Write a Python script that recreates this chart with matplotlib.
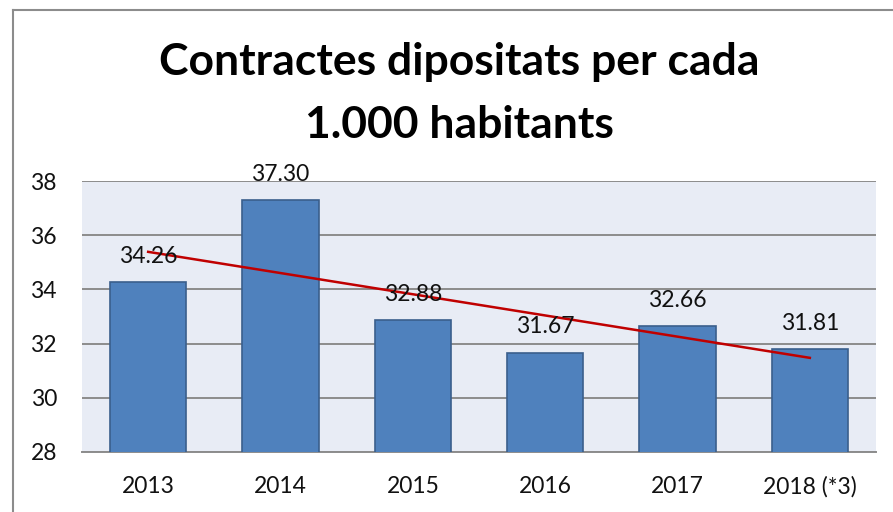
import numpy as np
import matplotlib
matplotlib.use("Agg")
import matplotlib.pyplot as plt
from matplotlib.lines import Line2D

years = ["2013", "2014", "2015", "2016", "2017", "2018 (*3)"]
values = [34.26, 37.30, 32.88, 31.67, 32.66, 31.81]
yticks = [28, 30, 32, 34, 36, 38]

plt.rcParams["font.family"] = ["Lato", "DejaVu Sans"]

W, H = 893, 512
fig = plt.figure(figsize=(W / 100, H / 100), dpi=100)
fig.patch.set_facecolor("white")

ax = fig.add_axes([82 / W, 1 - 452 / H, (876 - 82) / W, (452 - 181) / H])
ax.set_facecolor("#E8ECF5")

x = np.arange(len(years))
ax.bar(x, values, width=0.575, color="#4F81BD", edgecolor="#3A5F8C",
       linewidth=1.2, zorder=3)

# linear trend over the series
coef = np.polyfit(x, values, 1)
ax.plot([x[0], x[-1]], np.polyval(coef, [x[0], x[-1]]), color="#C00000",
        linewidth=1.8, zorder=5)

for xi, v in zip(x, values):
    ax.annotate(f"{v:.2f}", (xi, v), xytext=(0, 18.5), textcoords="offset points",
                ha="center", va="center", fontsize=16.5, color="#111111", zorder=6)

ax.set_xlim(-0.5, len(years) - 0.5)
ax.set_ylim(28, 38)
ax.set_yticks(yticks)
ax.set_xticks(x)
ax.set_xticklabels(years)
ax.grid(axis="y", color="#8C8C8C", linewidth=1.4, zorder=1)
ax.set_axisbelow(True)
for s in ["left", "right", "top"]:
    ax.spines[s].set_visible(False)
ax.spines["bottom"].set_color("#8C8C8C")
ax.spines["bottom"].set_linewidth(1.4)
ax.tick_params(axis="both", length=0, labelsize=16.5, colors="#111111")
ax.tick_params(axis="y", pad=18)
ax.tick_params(axis="x", pad=17)

title_x = 459 / W
fig.text(title_x, 1 - 62 / H, "Contractes dipositats per cada", ha="center",
         va="center", fontsize=32, fontweight="bold", color="black")
fig.text(title_x, 1 - 125 / H, "1.000 habitants", ha="center",
         va="center", fontsize=32, fontweight="bold", color="black")

# outer chart frame
fig.add_artist(Line2D([12.5 / W, 12.5 / W], [0, 1 - 10 / H], color="#8C8C8C",
                      linewidth=1.5, transform=fig.transFigure))
fig.add_artist(Line2D([12.5 / W, 1], [1 - 10 / H, 1 - 10 / H], color="#8C8C8C",
                      linewidth=1.5, transform=fig.transFigure))

fig.savefig("out.png", dpi=100)
